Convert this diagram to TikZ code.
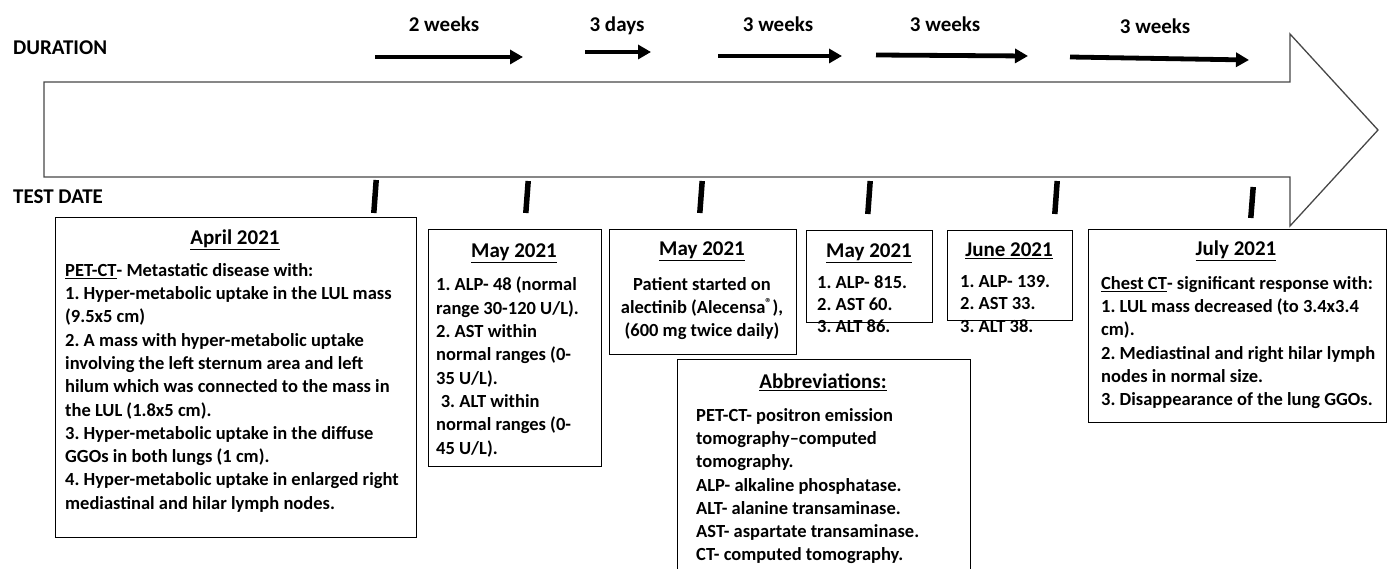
\documentclass[tikz,border=0pt]{standalone}
\usepackage{fontspec}
\setmainfont{Carlito}
\usetikzlibrary{arrows.meta,calc}
\begin{document}
\frenchspacing
\begin{tikzpicture}[x=1pt,y=-1pt,
  box/.style={draw=black, line width=1.3pt, anchor=north west, inner sep=0pt},
  bodytext/.style={font=\bfseries\fontsize{18.5}{23.3}\selectfont, align=left, anchor=north west, inner sep=0pt},
  ctrtext/.style={font=\bfseries\fontsize{18.5}{23.3}\selectfont, align=center, anchor=north, inner sep=0pt},
  ttl/.style={font=\bfseries\fontsize{21}{25}\selectfont, anchor=center, inner sep=0pt, text height=13.3pt, text depth=0pt},
  durarrow/.style={line width=4.8pt, -{Triangle[length=13pt,width=14pt]}},
  tickmark/.style={line width=5.5pt},
  lbl/.style={font=\bfseries\fontsize{21}{24}\selectfont, inner sep=0pt, text height=13.3pt, text depth=0pt},
  side/.style={font=\bfseries\fontsize{21}{24}\selectfont, anchor=west, inner sep=0pt, text height=13.3pt, text depth=0pt}
]
\useasboundingbox (0,0) rectangle (1390,569);
% big arrow
\draw[draw=black!72, line width=1.3pt] (44,82) -- (1290,82) -- (1290,34) -- (1378,130) -- (1290,226) -- (1290,177) -- (44,177) -- cycle;
% side labels
\node[side] (dur) at (13,48) {DURATION};
\node[side] (tst) at (13,197) {TEST DATE};
% duration arrows
\node[lbl] (l1) at (444,25) {2 weeks};
\node[lbl] (l2) at (617,25) {3 days};
\node[lbl] (l3) at (778,25) {3 weeks};
\node[lbl] (l4) at (945,25) {3 weeks};
\node[lbl] (l5) at (1155,27) {3 weeks};
\coordinate (a1s) at (375,57); \coordinate (a1e) at (523,57);
\coordinate (a2s) at (585,52); \coordinate (a2e) at (651,52);
\coordinate (a3s) at (718,56); \coordinate (a3e) at (842,56);
\coordinate (a4s) at (876,55); \coordinate (a4e) at (1028,56);
\coordinate (a5s) at (1070,57); \coordinate (a5e) at (1249,60);
\draw[durarrow] (a1s) -- (a1e);
\draw[durarrow] (a2s) -- (a2e);
\draw[durarrow] (a3s) -- (a3e);
\draw[durarrow] (a4s) -- (a4e);
\draw[durarrow] (a5s) -- (a5e);
% ticks
\foreach \i/\x/\ya/\yb in {1/375/180/213, 2/527/181/213, 3/701/181/213, 4/869/181/214, 5/1056/181/214, 6/1252/187/218}{
  \coordinate (t\i a) at (\x+1.2,\ya);
  \coordinate (t\i b) at (\x-1.2,\yb);
  \draw[tickmark] (t\i a) -- (t\i b);
}
% boxes
\node[box, minimum width=361pt, minimum height=320pt] (apr) at (55,217) {};
\node[ttl] (aprT) at (235,238) {\underline{April 2021}};
\node[bodytext] (aprB) at (65,263) {\underline{PET-CT}- Metastatic disease with:\\
1. Hyper-metabolic uptake in the LUL mass\\
(9.5x5 cm)\\
2. A mass with hyper-metabolic uptake\\
involving the left sternum area and left\\
hilum which was connected to the mass in\\
the LUL (1.8x5 cm).\\
3. Hyper-metabolic uptake in the diffuse\\
GGOs in both lungs (1 cm).\\
4. Hyper-metabolic uptake in enlarged right\\
mediastinal and hilar lymph nodes.};

\node[box, minimum width=173pt, minimum height=237pt] (may1) at (428,229) {};
\node[ttl] (may1T) at (514,251) {\underline{May 2021}};
\node[bodytext] (may1B) at (436,277) {1. ALP- 48 (normal\\
range 30-120 U/L).\\
2. AST within\\
normal ranges (0-\\
35 U/L).\\
\hspace*{0.25em}3. ALT within\\
normal ranges (0-\\
45 U/L).};

\node[box, minimum width=187pt, minimum height=125pt] (may2) at (609,229) {};
\node[ttl] (may2T) at (702,249) {\underline{May 2021}};
\node[ctrtext] (may2B) at (702,277) {Patient started on\\
alectinib (Alecensa\textsuperscript{®}),\\
(600 mg twice daily)};

\node[box, minimum width=126pt, minimum height=92pt] (may3) at (806,230) {};
\node[ttl] (may3T) at (869,251) {\underline{May 2021}};
\node[bodytext, font=\bfseries\fontsize{18.5}{22}\selectfont] (may3B) at (817,276) {1. ALP- 815.\\
2. AST 60.\\
3. ALT 86.};

\node[box, minimum width=125pt, minimum height=90pt] (jun) at (947,230) {};
\node[ttl] (junT) at (1009,250) {\underline{June 2021}};
\node[bodytext, font=\bfseries\fontsize{18.5}{22.5}\selectfont] (junB) at (960,275) {1. ALP- 139.\\
2. AST 33.\\
3. ALT 38.};

\node[box, minimum width=298pt, minimum height=193pt] (jul) at (1088,229) {};
\node[ttl] (julT) at (1236,249) {\underline{July 2021}};
\node[bodytext] (julB) at (1101,276) {\underline{Chest CT}- significant response with:\\
1. LUL mass decreased (to 3.4x3.4\\
cm).\\
2. Mediastinal and right hilar lymph\\
nodes in normal size.\\
3. Disappearance of the lung GGOs.};

\node[box, minimum width=293pt, minimum height=216pt] (abb) at (677,359) {};
\node[ttl] (abbT) at (823,382) {\underline{Abbreviations:}};
\node[bodytext] (abbB) at (696,408) {PET-CT- positron emission\\
tomography–computed\\
tomography.\\
ALP- alkaline phosphatase.\\
ALT- alanine transaminase.\\
AST- aspartate transaminase.\\
CT- computed tomography.};
\end{tikzpicture}
\end{document}
